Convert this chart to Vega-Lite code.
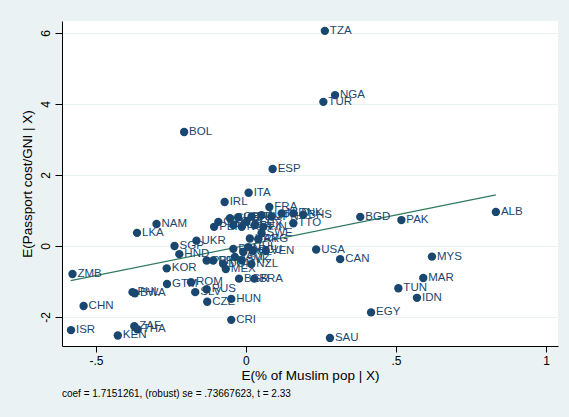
{
  "$schema": "https://vega.github.io/schema/vega-lite/v6.json",
  "width": 496,
  "height": 325,
  "autosize": "none",
  "padding": {"left": 62, "top": 21, "right": 11, "bottom": 71},
  "background": "#EAF2F3",
  "config": {
    "font": "Liberation Sans",
    "view": {"fill": "white", "stroke": null},
    "axis": {
      "domainColor": "black", "domainWidth": 1, "tickColor": "black", "tickSize": 6,
      "labelColor": "black", "titleColor": "black", "labelFontSize": 12, "titleFontSize": 13.5,
      "titleFontWeight": "normal", "labelFont": "Liberation Sans", "titleFont": "Liberation Sans"
    }
  },
  "title": {
    "text": "coef = 1.7151261, (robust) se = .73667623, t = 2.33",
    "orient": "bottom", "anchor": "start", "frame": "group",
    "fontSize": 10, "fontWeight": "normal", "color": "black", "offset": 7, "font": "Liberation Sans"
  },
  "datasets": {
    "pts": [
      {"c": "TZA", "x": 0.263, "y": 6.06},
      {"c": "NGA", "x": 0.297, "y": 4.25},
      {"c": "TUR", "x": 0.258, "y": 4.06},
      {"c": "BOL", "x": -0.206, "y": 3.21},
      {"c": "ESP", "x": 0.089, "y": 2.17},
      {"c": "ITA", "x": 0.009, "y": 1.50},
      {"c": "IRL", "x": -0.071, "y": 1.24},
      {"c": "FRA", "x": 0.078, "y": 1.10},
      {"c": "NAM", "x": -0.298, "y": 0.62},
      {"c": "LKA", "x": -0.363, "y": 0.37},
      {"c": "SGP", "x": -0.238, "y": 0.00},
      {"c": "UKR", "x": -0.165, "y": 0.15},
      {"c": "HND", "x": -0.222, "y": -0.23},
      {"c": "SWE", "x": 0.052, "y": 0.36},
      {"c": "BHS", "x": 0.191, "y": 0.88},
      {"c": "TTO", "x": 0.158, "y": 0.64},
      {"c": "BGD", "x": 0.381, "y": 0.82},
      {"c": "PAK", "x": 0.518, "y": 0.73},
      {"c": "ALB", "x": 0.833, "y": 0.96},
      {"c": "USA", "x": 0.234, "y": -0.10},
      {"c": "CAN", "x": 0.314, "y": -0.37},
      {"c": "MYS", "x": 0.620, "y": -0.30},
      {"c": "MAR", "x": 0.591, "y": -0.90},
      {"c": "TUN", "x": 0.508, "y": -1.19},
      {"c": "IDN", "x": 0.570, "y": -1.46},
      {"c": "EGY", "x": 0.417, "y": -1.87},
      {"c": "SAU", "x": 0.280, "y": -2.59},
      {"c": "ZMB", "x": -0.578, "y": -0.79},
      {"c": "KOR", "x": -0.264, "y": -0.63},
      {"c": "GTM", "x": -0.263, "y": -1.07},
      {"c": "ROM", "x": -0.183, "y": -1.02},
      {"c": "PHL", "x": -0.378, "y": -1.30},
      {"c": "BWA", "x": -0.370, "y": -1.33},
      {"c": "CHN", "x": -0.541, "y": -1.69},
      {"c": "SLV", "x": -0.169, "y": -1.30},
      {"c": "RUS", "x": -0.131, "y": -1.22},
      {"c": "CZE", "x": -0.129, "y": -1.57},
      {"c": "HUN", "x": -0.049, "y": -1.49},
      {"c": "CRI", "x": -0.049, "y": -2.08},
      {"c": "BGR", "x": -0.023, "y": -0.92},
      {"c": "BRA", "x": 0.028, "y": -0.92},
      {"c": "MEX", "x": -0.067, "y": -0.65},
      {"c": "NZL", "x": 0.018, "y": -0.51},
      {"c": "ISR", "x": -0.583, "y": -2.37},
      {"c": "ZAF", "x": -0.372, "y": -2.26},
      {"c": "THA", "x": -0.361, "y": -2.35},
      {"c": "KEN", "x": -0.427, "y": -2.52},
      {"c": "PRY", "x": -0.131, "y": -0.41},
      {"c": "PRT", "x": -0.109, "y": -0.41},
      {"c": "DOM", "x": -0.076, "y": -0.50},
      {"c": "VEN", "x": 0.066, "y": -0.14},
      {"c": "URY", "x": 0.013, "y": 0.21},
      {"c": "ARG", "x": 0.041, "y": 0.19},
      {"c": "CHL", "x": 0.008, "y": -0.03},
      {"c": "ECU", "x": 0.024, "y": -0.12},
      {"c": "COL", "x": -0.009, "y": -0.17},
      {"c": "PAN", "x": -0.042, "y": -0.08},
      {"c": "JAM", "x": -0.037, "y": -0.31},
      {"c": "SVK", "x": -0.014, "y": -0.40},
      {"c": "GRC", "x": -0.092, "y": 0.68},
      {"c": "PER", "x": -0.106, "y": 0.54},
      {"c": "CHE", "x": -0.053, "y": 0.78},
      {"c": "GBR", "x": -0.026, "y": 0.81},
      {"c": "BEL", "x": 0.002, "y": 0.68},
      {"c": "DEU", "x": 0.019, "y": 0.83},
      {"c": "AUT", "x": 0.052, "y": 0.87},
      {"c": "JPN", "x": 0.086, "y": 0.83},
      {"c": "NLD", "x": 0.119, "y": 0.92},
      {"c": "DNK", "x": 0.158, "y": 0.92},
      {"c": "LUX", "x": 0.030, "y": 0.59},
      {"c": "FIN", "x": 0.058, "y": 0.54},
      {"c": "NOR", "x": -0.014, "y": 0.54},
      {"c": "AUS", "x": -0.042, "y": 0.59}
    ],
    "fit": [
      {"x": -0.584, "y": -0.977},
      {"x": 0.833, "y": 1.44}
    ]
  },
  "encoding": {
    "x": {
      "field": "x", "type": "quantitative",
      "scale": {"domain": [-0.613, 1.04], "nice": false, "zero": false},
      "axis": {
        "title": "E(% of Muslim pop | X)", "values": [-0.5, 0, 0.5, 1], "grid": false,
        "labelExpr": "datum.value == -0.5 ? '-.5' : datum.value == 0.5 ? '.5' : datum.value == 0 ? '0' : '1'",
        "labelPadding": 3, "titlePadding": 2
      }
    },
    "y": {
      "field": "y", "type": "quantitative",
      "scale": {"domain": [-2.817, 6.338], "nice": false, "zero": false},
      "axis": {
        "title": "E(Passport cost/GNI | X)", "values": [-2, 0, 2, 4, 6], "grid": true,
        "gridColor": "#EAF2F3", "gridWidth": 1, "tickSize": 7,
        "labelExpr": "datum.value == -2 ? '-2' : toString(datum.value)",
        "labelAngle": -90, "labelAlign": "center", "labelBaseline": "bottom", "labelPadding": 3,
        "titlePadding": 5
      }
    }
  },
  "layer": [
    {
      "data": {"name": "fit"},
      "mark": {"type": "line", "color": "#2f7a5e", "strokeWidth": 1.2},
      "encoding": {}
    },
    {
      "data": {"name": "pts"},
      "mark": {"type": "point", "filled": true, "size": 70, "color": "#1a476f", "opacity": 1}
    },
    {
      "data": {"name": "pts"},
      "mark": {"type": "text", "align": "left", "baseline": "middle", "dx": 5, "fontSize": 11.5, "color": "#1a476f", "font": "Liberation Sans"},
      "encoding": {"text": {"field": "c"}}
    }
  ]
}
